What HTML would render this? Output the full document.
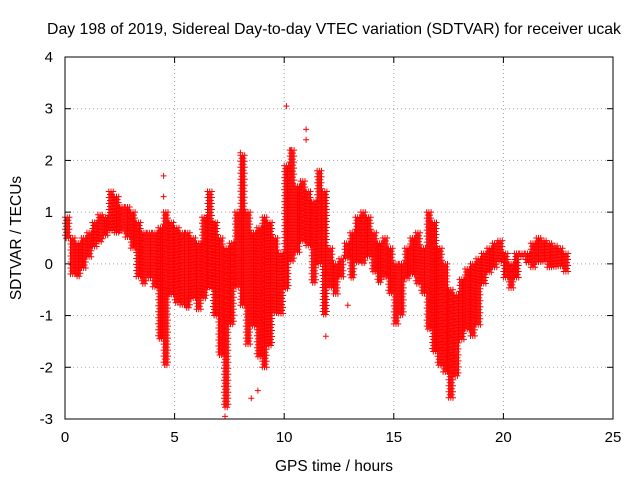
<!DOCTYPE html>
<html><head><meta charset="utf-8"><style>
body{margin:0;background:#fff}
svg{display:block;font-family:"Liberation Sans",sans-serif}
</style></head><body>
<svg id="chart" width="640" height="480">
<text x="334" y="34" font-size="15.8" text-anchor="middle">Day 198 of 2019, Sidereal Day-to-day VTEC variation (SDTVAR) for receiver ucak</text>
<text x="334" y="471" font-size="15.5" text-anchor="middle">GPS time / hours</text>
<text transform="translate(21,238) rotate(-90)" font-size="15.5" text-anchor="middle">SDTVAR / TECUs</text>
<g id="grid"></g><g id="marks"></g><g id="axes"></g>
</svg>
<script>
const xTicks=[0,5,10,15,20,25];
const yTicks=[-3,-2,-1,0,1,2,3,4];
const binTimes=[0,0.25,0.5,0.75,1,1.25,1.5,1.75,2,2.25,2.5,2.75,3,3.25,3.5,3.75,4,4.25,4.5,4.75,5,5.25,5.5,5.75,6,6.25,6.5,6.75,7,7.25,7.5,7.75,8,8.25,8.5,8.75,9,9.25,9.5,9.75,10,10.25,10.5,10.75,11,11.25,11.5,11.75,12,12.25,12.5,12.75,13,13.25,13.5,13.75,14,14.25,14.5,14.75,15,15.25,15.5,15.75,16,16.25,16.5,16.75,17,17.25,17.5,17.75,18,18.25,18.5,18.75,19,19.25,19.5,19.75,20,20.25,20.5,20.75,21,21.25,21.5,21.75,22,22.25,22.5,22.75];
const binLow=[0.45,-0.2,-0.25,-0.1,0.1,0.3,0.4,0.5,0.6,0.6,0.6,0.5,0.3,-0.3,-0.4,-0.3,-0.5,-1.5,-2.0,-0.6,-0.8,-0.8,-0.9,-0.7,-0.9,-0.7,-0.5,-1.0,-1.8,-2.8,-1.2,-0.5,-0.8,-1.6,-1.2,-1.8,-2.0,-1.6,-1.0,-1.0,-0.5,0.0,0.2,0.4,0.3,-0.4,0.0,-1.0,-0.5,-0.6,-0.3,0.1,-0.3,0.0,0.0,0.1,-0.2,-0.4,-0.3,-0.6,-1.2,-1.0,-0.3,-0.2,-0.4,-0.6,-1.3,-1.7,-2.0,-2.1,-2.6,-2.2,-1.5,-1.3,-1.4,-1.2,-0.4,-0.2,-0.1,0.0,-0.3,-0.5,-0.3,0.1,0.0,-0.1,0.0,0.0,-0.1,-0.1,-0.1,-0.2];
const binHigh=[0.9,0.5,0.4,0.5,0.6,0.8,0.95,0.9,1.4,1.3,1.1,1.1,1.0,0.8,0.6,0.6,0.6,0.7,1.0,0.8,0.7,0.6,0.6,0.5,0.4,0.9,1.4,0.8,0.5,0.3,0.4,1.0,2.1,1.0,0.6,0.7,0.9,0.8,0.5,0.2,1.9,2.2,1.5,1.6,1.4,1.2,1.8,1.4,0.3,0.0,0.1,0.4,0.6,0.9,1.0,0.9,0.6,0.4,0.5,0.3,0.0,0.0,0.3,0.5,0.6,0.3,1.0,0.8,0.3,0.0,-0.5,-0.6,-0.3,-0.1,0.0,0.1,0.2,0.3,0.4,0.45,0.2,0.0,0.2,0.2,0.2,0.4,0.5,0.45,0.4,0.35,0.3,0.2];
const outX=[10.1,11.0,11.0,8.0,4.5,7.3,8.5,8.8,11.9,12.9,4.5,10.3];
const outY=[3.05,2.6,2.4,2.15,1.7,-2.95,-2.6,-2.45,-1.4,-0.8,1.3,2.2];
const X=v=>65+v*(548/25), Y=v=>419-(v+3)*(362/7);
const NS="http://www.w3.org/2000/svg";
const grid=document.getElementById('grid'),axes=document.getElementById('axes'),marks=document.getElementById('marks');
function mk(tag,at,p){const e=document.createElementNS(NS,tag);for(const k in at)e.setAttribute(k,at[k]);p.appendChild(e);return e;}
xTicks.forEach(t=>{
 if(t>0&&t<25){const g=mk('line',{x1:X(t),x2:X(t),y1:57,y2:419,stroke:'#a0a0a0','stroke-dasharray':'1,3'},grid);
 
 }
 const tk=mk('text',{x:X(t),y:442,'font-size':15,'text-anchor':'middle'},axes);tk.textContent=t;
 
 
 mk('line',{x1:X(t),x2:X(t),y1:419,y2:413,stroke:'#000'},axes);
 mk('line',{x1:X(t),x2:X(t),y1:57,y2:63,stroke:'#000'},axes);
});
yTicks.forEach(t=>{
 if(t>-3&&t<4){const g=mk('line',{x1:65,x2:613,y1:Y(t),y2:Y(t),stroke:'#a0a0a0','stroke-dasharray':'1,3'},grid);
 
 }
 const tk=mk('text',{x:53,y:Y(t)+5,'font-size':15,'text-anchor':'end'},axes);tk.textContent=t;
 
 
 mk('line',{x1:65,x2:71,y1:Y(t),y2:Y(t),stroke:'#000'},axes);
 mk('line',{x1:607,x2:613,y1:Y(t),y2:Y(t),stroke:'#000'},axes);
});
const fr=mk('rect',{x:65,y:57,width:548,height:362,fill:'none',stroke:'#000'},axes);


let d='';
function plus(x,y){d+=`M${(x-3).toFixed(1)} ${y.toFixed(1)}h6M${x.toFixed(1)} ${(y-3).toFixed(1)}v6`;}
binTimes.forEach((t,i)=>{
 const y1=Y(binHigh[i]),y2=Y(binLow[i]);
 for(let c=0;c<5;c++){const x=X(t+c*0.05);
  for(let y=y1+(c%2)*3;y<=y2+0.1;y+=6)plus(x,y);}
});
outX.forEach((t,i)=>plus(X(t),Y(outY[i])));
const p=mk('path',{d:d,stroke:'#ff0000','stroke-width':1,fill:'none'},marks);


</script>
</body></html>
